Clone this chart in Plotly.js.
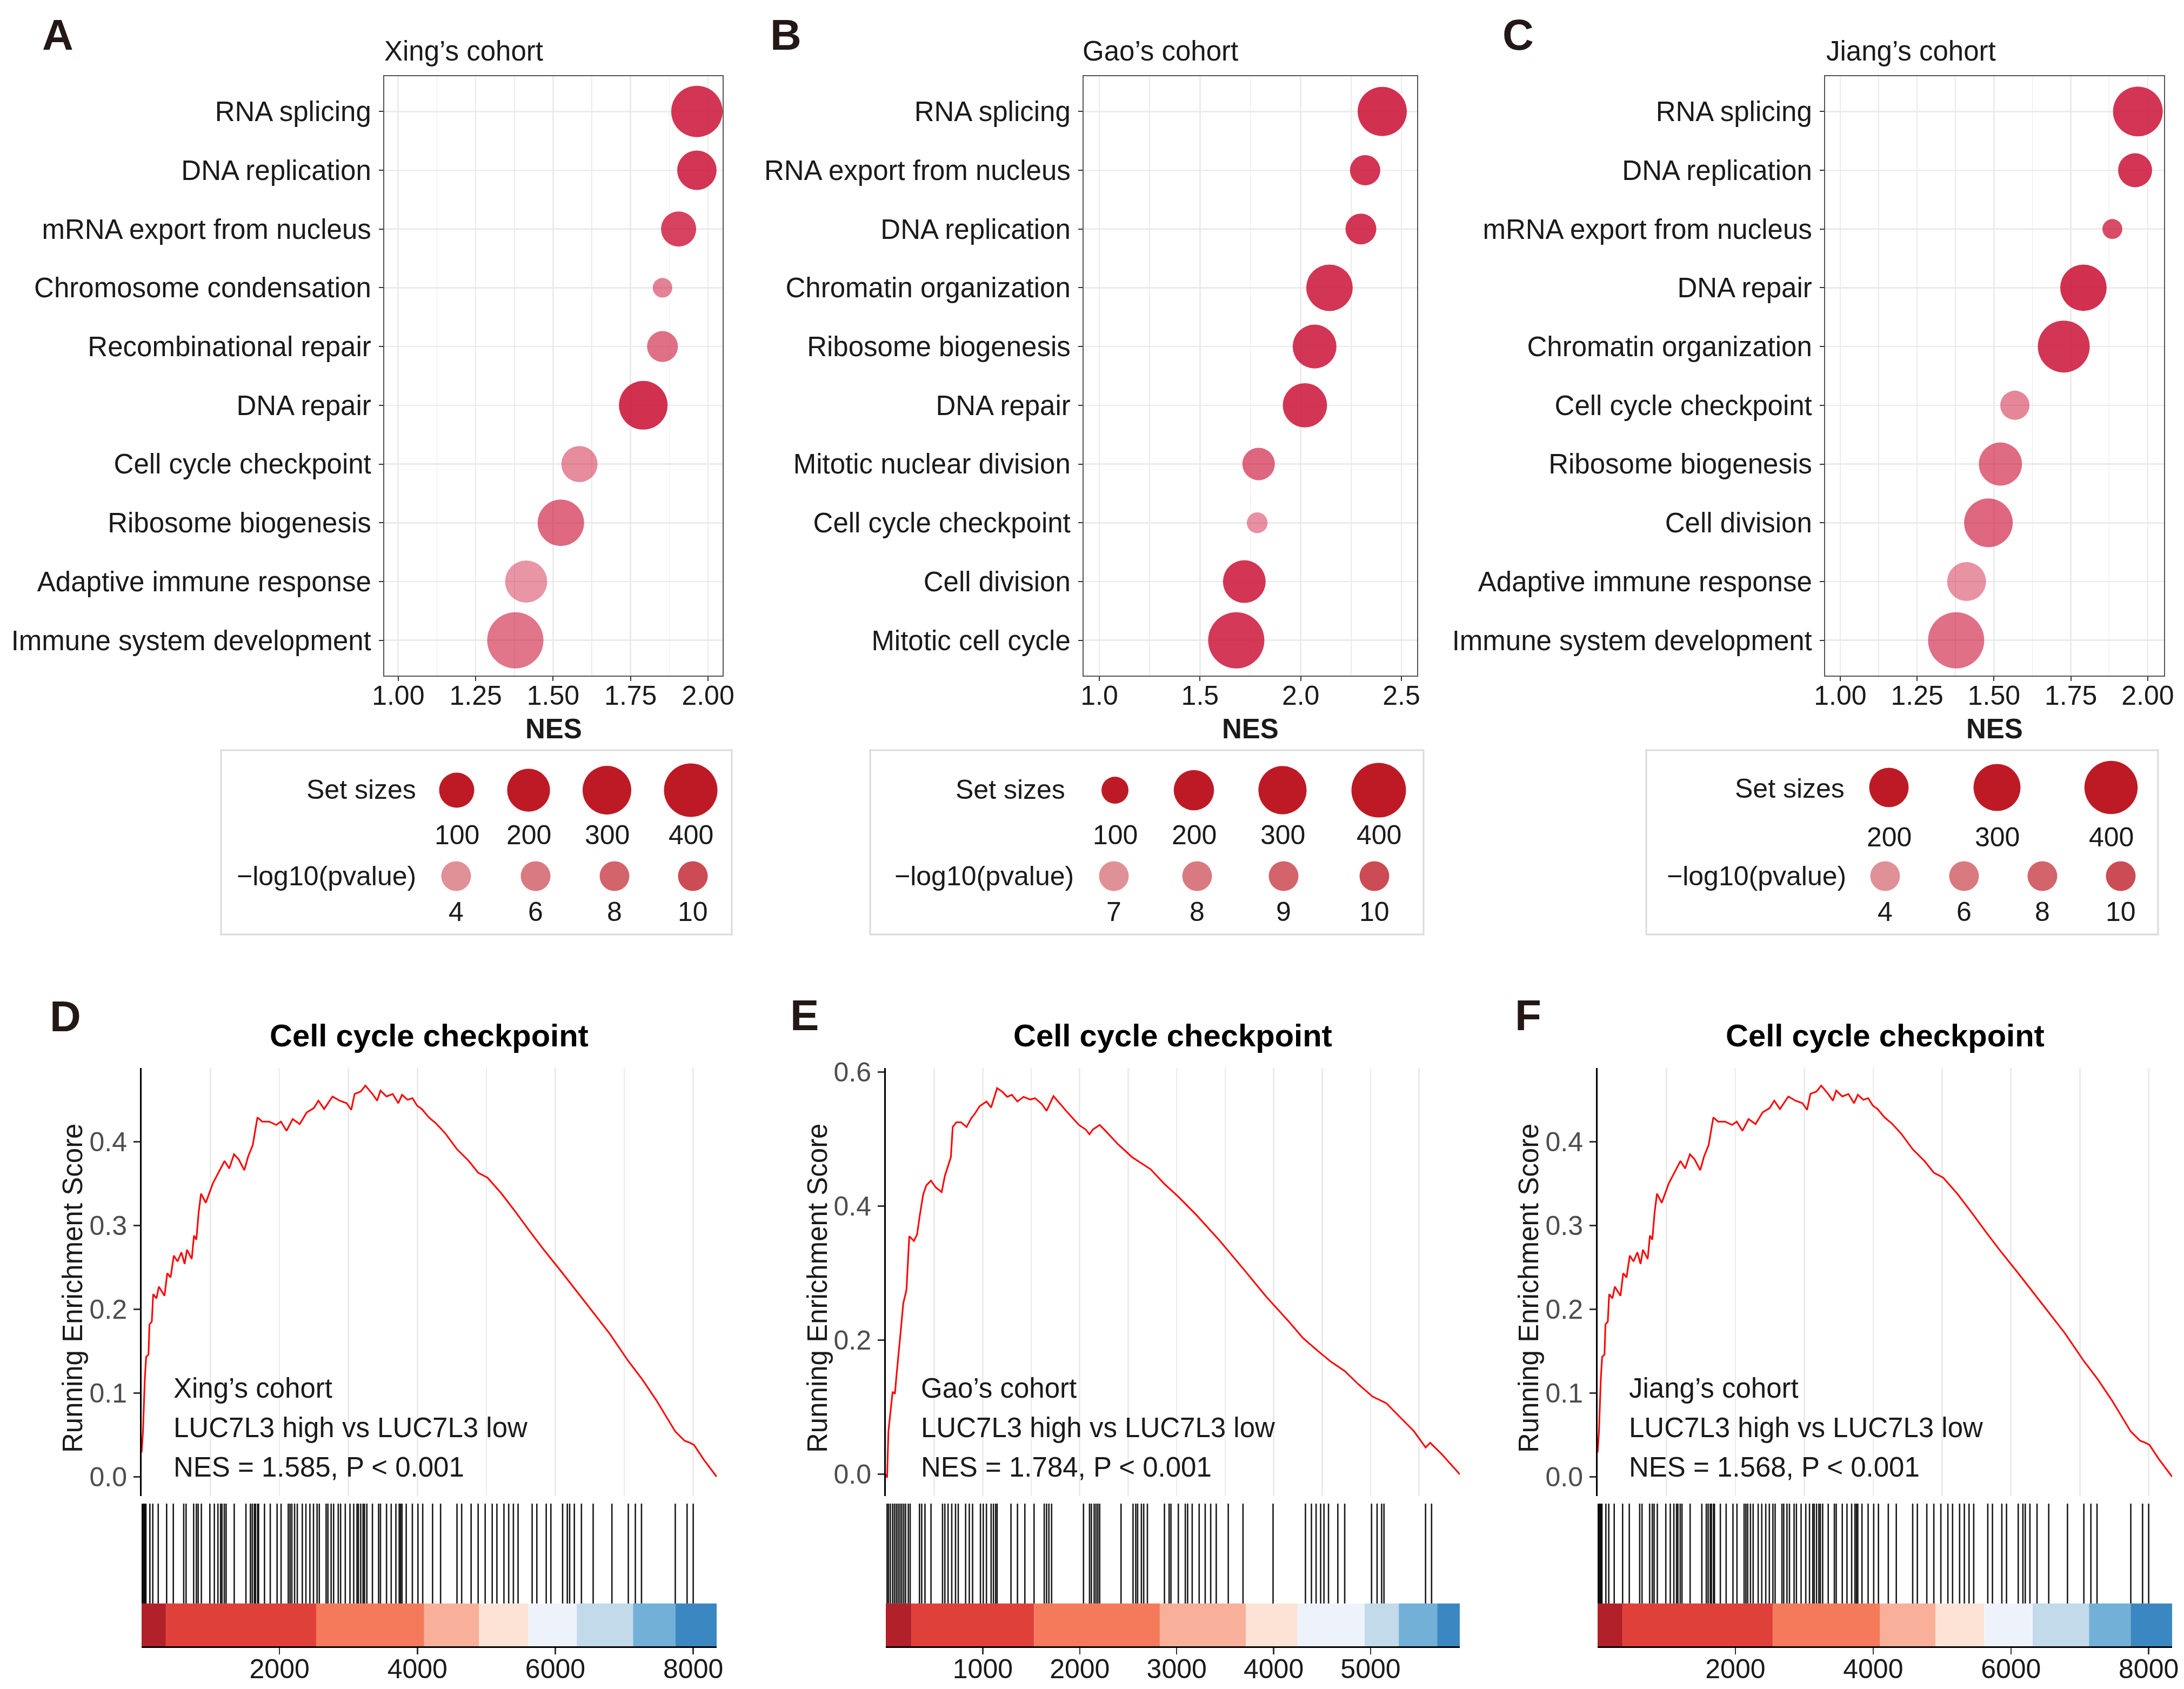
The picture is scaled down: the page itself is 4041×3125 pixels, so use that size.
<!DOCTYPE html>
<html><head><meta charset="utf-8">
<script src="https://cdn.plot.ly/plotly-3.0.1.min.js"></script>
<style>html,body{margin:0;padding:0;background:#fff;}#chart{width:4041px;height:3125px;}</style>
</head><body><div id="chart"></div>
<script>
// ================= DATA =================
// Panel A (Xing's cohort)
const catsA = ["RNA splicing","DNA replication","mRNA export from nucleus","Chromosome condensation","Recombinational repair","DNA repair","Cell cycle checkpoint","Ribosome biogenesis","Adaptive immune response","Immune system development"];
const nesA  = [1.964,1.964,1.905,1.853,1.853,1.791,1.585,1.525,1.413,1.378];
const sizeA = [353,150,100,20,62,299,111,259,188,463];
const logpA = [12.0,12.0,10.8,5.4,6.8,12.4,4.4,7.4,3.6,6.4];
const xTicksA = [1.00,1.25,1.50,1.75,2.00];
const sizeBreaksA = [100,200,300,400];
const pBreaksA = [4,6,8,10];

// Panel B (Gao's cohort)
const catsB = ["RNA splicing","RNA export from nucleus","DNA replication","Chromatin organization","Ribosome biogenesis","DNA repair","Mitotic nuclear division","Cell cycle checkpoint","Cell division","Mitotic cell cycle"];
const nesB  = [2.405,2.320,2.299,2.143,2.069,2.021,1.791,1.784,1.720,1.680];
const sizeB = [313,117,120,275,240,246,131,82,227,429];
const logpB = [11.2,11.0,11.0,11.0,11.0,11.0,8.8,7.0,11.0,10.8];
const xTicksB = [1.0,1.5,2.0,2.5];
const sizeBreaksB = [100,200,300,400];
const pBreaksB = [7,8,9,10];

// Panel C (Jiang's cohort)
const catsC = ["RNA splicing","DNA replication","mRNA export from nucleus","DNA repair","Chromatin organization","Cell cycle checkpoint","Ribosome biogenesis","Cell division","Adaptive immune response","Immune system development"];
const nesC  = [1.968,1.959,1.885,1.791,1.727,1.568,1.521,1.482,1.411,1.377];
const sizeC = [341,145,66,291,377,108,246,324,194,455];
const logpC = [12.0,12.0,10.0,12.4,12.0,4.8,7.2,7.6,3.8,6.8];
const xTicksC = [1.00,1.25,1.50,1.75,2.00];
const sizeBreaksC = [200,300,400];
const pBreaksC = [4,6,8,10];

// Panel D (Xing's cohort GSEA)
const esDx = [0,20,46,66,100,114,148,168,216,250,332,372,420,467,522,577,624,658,727,760,794,828,862,931,1032,1135,1203,1271,1340,1408,1490,1544,1612,1680,1748,1850,1952,2020,2102,2191,2293,2395,2497,2565,2647,2769,2871,2973,3041,3089,3178,3246,3348,3416,3464,3552,3641,3723,3777,3859,3928,3996,4064,4166,4268,4404,4574,4745,4881,5017,5221,5425,5630,5834,6106,6447,6787,7060,7264,7468,7740,7876,7944,8012,8149,8340];
const esDy = [0.029,0.054,0.116,0.143,0.146,0.182,0.185,0.218,0.213,0.227,0.216,0.243,0.238,0.264,0.257,0.268,0.254,0.271,0.26,0.288,0.283,0.316,0.338,0.327,0.35,0.366,0.377,0.368,0.385,0.379,0.366,0.382,0.396,0.429,0.424,0.424,0.42,0.424,0.413,0.427,0.421,0.435,0.44,0.449,0.439,0.454,0.449,0.446,0.438,0.457,0.46,0.467,0.457,0.449,0.461,0.454,0.457,0.446,0.456,0.45,0.452,0.443,0.439,0.429,0.422,0.41,0.391,0.377,0.363,0.357,0.338,0.316,0.293,0.271,0.243,0.207,0.171,0.138,0.116,0.091,0.054,0.043,0.041,0.038,0.021,0.0];
const rugD = [0,10,24,37,50,63,120,162,241,363,460,611,645,755,794,820,867,990,1055,1107,1146,1165,1199,1225,1343,1513,1578,1605,1636,1652,1683,1696,1782,1866,1965,2023,2127,2153,2179,2219,2258,2331,2383,2441,2493,2545,2577,2676,2702,2749,2785,2852,2886,2954,3022,3076,3124,3144,3178,3212,3233,3267,3348,3437,3464,3552,3620,3688,3736,3757,3777,3838,3927,4008,4077,4220,4336,4574,4642,4779,4881,4983,5085,5153,5255,5324,5392,5460,5664,5732,5868,5936,6106,6174,6208,6276,6379,6549,6821,7059,7161,7250,7740,7911,8000];
const barBreaksD = [0,352,2532,4098,4894,5609,6311,7128,7740,8340];
const xTicksD = [2000,4000,6000,8000];
const yTicksD = [0.0,0.1,0.2,0.3,0.4];

// Panel E (Gao's cohort GSEA)
const esEx = [0,13,27,51,70,94,108,156,180,213,242,290,323,347,385,418,466,514,576,609,671,690,728,776,833,881,919,967,1038,1086,1148,1205,1253,1300,1358,1420,1491,1539,1610,1658,1682,1729,1777,1872,1992,2063,2101,2134,2206,2254,2397,2540,2636,2731,2874,3017,3208,3446,3684,3923,4161,4304,4447,4590,4733,4876,5019,5162,5305,5448,5568,5615,5734,5920];
const esEy = [0,-0.005,0.064,0.096,0.123,0.12,0.144,0.217,0.255,0.275,0.355,0.348,0.358,0.383,0.417,0.431,0.438,0.428,0.421,0.445,0.473,0.518,0.525,0.525,0.518,0.531,0.538,0.549,0.556,0.547,0.576,0.57,0.563,0.566,0.556,0.563,0.559,0.561,0.552,0.542,0.549,0.564,0.556,0.54,0.521,0.514,0.507,0.514,0.521,0.514,0.492,0.473,0.464,0.455,0.433,0.414,0.386,0.348,0.307,0.265,0.227,0.203,0.185,0.168,0.154,0.134,0.116,0.106,0.085,0.064,0.04,0.047,0.03,0.0];
const rugE = [13,27,46,70,89,108,127,146,165,185,204,232,251,347,370,404,466,585,609,642,680,719,747,823,861,895,976,1005,1038,1086,1110,1133,1148,1291,1358,1434,1529,1634,1658,1682,1710,2039,2101,2120,2149,2168,2187,2206,2426,2550,2578,2597,2636,2660,2698,2874,2922,2941,3017,3089,3113,3160,3232,3294,3351,3408,3532,3684,3994,4328,4390,4438,4485,4519,4566,4662,4733,5010,5067,5114,5138,5567,5629];
const barBreaksE = [0,266,1529,2826,3713,4247,4938,5291,5687,5920];
const xTicksE = [1000,2000,3000,4000,5000];
const yTicksE = [0.0,0.2,0.4,0.6];

// Panel F (Jiang's cohort GSEA)
const esFx = [0,20,46,66,100,114,148,168,216,250,332,372,420,467,522,577,624,658,727,760,794,828,862,931,1032,1135,1203,1271,1340,1408,1490,1544,1612,1680,1748,1850,1952,2020,2102,2191,2293,2395,2497,2565,2647,2769,2871,2973,3041,3089,3178,3246,3348,3416,3464,3552,3641,3723,3777,3859,3928,3996,4064,4166,4268,4404,4574,4745,4881,5017,5221,5425,5630,5834,6106,6447,6787,7060,7264,7468,7740,7876,7944,8012,8149,8340];
const esFy = [0.029,0.054,0.116,0.143,0.146,0.182,0.185,0.218,0.213,0.227,0.216,0.243,0.238,0.264,0.257,0.268,0.254,0.271,0.26,0.288,0.283,0.316,0.338,0.327,0.35,0.366,0.377,0.368,0.385,0.379,0.366,0.382,0.396,0.429,0.424,0.424,0.42,0.424,0.413,0.427,0.421,0.435,0.44,0.449,0.439,0.454,0.449,0.446,0.438,0.457,0.46,0.467,0.457,0.449,0.461,0.454,0.457,0.446,0.456,0.45,0.452,0.443,0.439,0.429,0.422,0.41,0.391,0.377,0.363,0.357,0.338,0.316,0.293,0.271,0.243,0.207,0.171,0.138,0.116,0.091,0.054,0.043,0.041,0.038,0.021,0.0];
const rugF = [0,10,24,37,50,63,120,162,241,363,460,611,645,755,794,820,867,990,1055,1107,1146,1165,1199,1225,1343,1513,1578,1605,1636,1652,1683,1696,1782,1866,1965,2023,2127,2153,2179,2219,2258,2331,2383,2441,2493,2545,2577,2676,2702,2749,2785,2852,2886,2954,3022,3076,3124,3144,3178,3212,3233,3267,3348,3437,3464,3552,3620,3688,3736,3757,3777,3838,3927,4008,4077,4220,4336,4574,4642,4779,4881,4983,5085,5153,5255,5324,5392,5460,5664,5732,5868,5936,6106,6174,6208,6276,6379,6549,6821,7059,7161,7250,7740,7911,8000];
const barBreaksF = [0,362,2544,4101,4906,5611,6316,7134,7738,8340];
const xTicksF = [2000,4000,6000,8000];
const yTicksF = [0.0,0.1,0.2,0.3,0.4];

const gseaTitle = "Cell cycle checkpoint";
const cohortNames = ["Xing\u2019s cohort","Gao\u2019s cohort","Jiang\u2019s cohort"];
const compLabel = "LUC7L3 high vs LUC7L3 low";
const nesLabels = ["NES = 1.585, P < 0.001","NES = 1.784, P < 0.001","NES = 1.568, P < 0.001"];

// ================= STYLE / LAYOUT =================
const W = 4041, H = 3125;
const FONT = "Liberation Sans, Arial, Helvetica, sans-serif";
const TXT = "#1A1A1A";
const bubbleRGB = [205,25,60];
const legendRGB = [190,26,37];
const barPalette = ["#B2202A","#E0403A","#F57A5C","#F9B09A","#FDE3D6","#EEF3FB","#C3DAEA","#72B0D8","#3B87C1"];

const fx = px => px / W;
const fy = py => 1 - py / H;
const rgba = (c, a) => `rgba(${c[0]},${c[1]},${c[2]},${a.toFixed(3)})`;
function sizePx(n, s){ const t = Math.max(0,(n - s.lo)/(s.hi - s.lo)); return s.dmin + (s.dmax - s.dmin)*Math.sqrt(t); }
function alphaOf(v, s){ const t = (v - s.lo)/(s.hi - s.lo); return Math.min(1, Math.max(0.05, s.amin + (s.amax - s.amin)*t)); }

const bubblePanels = [
  {cats:catsA, nes:nesA, size:sizeA, logp:logpA, ticks:xTicksA, fmt:".2f", minor0:1.125, minorD:0.25, range:[0.955,2.047],
   dom:[711,1337], sScale:{lo:20,hi:463,dmin:36.2,dmax:104}, aScale:{lo:2.4,hi:12.4,amin:0.4,amax:0.9},
   title:cohortNames[0], titleX:709, letter:"A", letterXY:[107,64],
   leg:{box:[409,1388,1354,1729], sTitleX:772, sTitleY:1461, sY:1462, sLabY:1545, pTitleX:772, pY:1621, pLabY:1687,
        sXs:[845,978,1123,1278], pXs:[844,991,1137,1282], sBreaks:sizeBreaksA, pBreaks:pBreaksA}},
  {cats:catsB, nes:nesB, size:sizeB, logp:logpB, ticks:xTicksB, fmt:".1f", minor0:1.25, minorD:0.5, range:[0.922,2.578],
   dom:[2005,2622], sScale:{lo:80,hi:470,dmin:33,dmax:108}, aScale:{lo:6.2,hi:11.2,amin:0.4,amax:0.9},
   title:cohortNames[1], titleX:2001, letter:"B", letterXY:[1454,64],
   leg:{box:[1610,1388,2634,1729], sTitleX:1973, sTitleY:1461, sY:1462, sLabY:1545, pTitleX:1989, pY:1621, pLabY:1687,
        sXs:[2063,2209,2373,2551], pXs:[2061,2215,2375,2543], sBreaks:sizeBreaksB, pBreaks:pBreaksB}},
  {cats:catsC, nes:nesC, size:sizeC, logp:logpC, ticks:xTicksC, fmt:".2f", minor0:1.125, minorD:0.25, range:[0.951,2.053],
   dom:[3377,4004], sScale:{lo:60,hi:470,dmin:27.4,dmax:105.4}, aScale:{lo:2.4,hi:12.4,amin:0.4,amax:0.9},
   title:cohortNames[2], titleX:3377, letter:"C", letterXY:[2809,64],
   leg:{box:[3046,1388,3993,1729], sTitleX:3415, sTitleY:1459, sY:1457, sLabY:1549, pTitleX:3418, pY:1621, pLabY:1687,
        sXs:[3495,3695,3906], pXs:[3488,3634,3779,3924], sBreaks:sizeBreaksC, pBreaks:pBreaksC}}
];

const gseaPanels = [
  {x:esDx, y:esDy, rug:rugD, bars:barBreaksD, xt:xTicksD, yt:yTicksD, xr:[0,8340], yr:[-0.023,0.488], minor0:1000, minorD:2000,
   dom:[262,1326], letter:"D", letterXY:[121,1880], ytitleX:134, annX:319, cohort:cohortNames[0], nes:nesLabels[0]},
  {x:esEx, y:esEy, rug:rugE, bars:barBreaksE, xt:xTicksE, yt:yTicksE, xr:[0,5920], yr:[-0.0325,0.606], minor0:500, minorD:1000,
   dom:[1639,2701], letter:"E", letterXY:[1488,1878], ytitleX:1512, annX:1702, cohort:cohortNames[1], nes:nesLabels[1]},
  {x:esFx, y:esFy, rug:rugF, bars:barBreaksF, xt:xTicksF, yt:yTicksF, xr:[0,8340], yr:[-0.023,0.488], minor0:1000, minorD:2000,
   dom:[2956,4019], letter:"F", letterXY:[2827,1878], ytitleX:2828, annX:3012, cohort:cohortNames[2], nes:nesLabels[2]}
];

const BUB_Y = [141,1250];
const ES_Y = [1976,2768];
const BOT_Y = [2782,3046];
const BAR_TOP = 0.30;

const traces = [];
const layout = {
  width:W, height:H, margin:{l:0,r:0,t:0,b:0,pad:0}, autosize:false,
  paper_bgcolor:"#ffffff", plot_bgcolor:"rgba(0,0,0,0)", showlegend:false,
  font:{family:FONT, color:TXT}, annotations:[], shapes:[]
};
function ann(text, x, y, o){ return Object.assign({text, x:fx(x), y:fy(y), xref:"paper", yref:"paper", showarrow:false,
  xanchor:"center", yanchor:"middle", font:{family:FONT, size:51, color:TXT}}, o||{}); }

// overlay pixel axis (for legend keys)
layout.xaxis10 = {domain:[0,1], range:[0,W], visible:false, fixedrange:true, anchor:"y10"};
layout.yaxis10 = {domain:[0,1], range:[H,0], visible:false, fixedrange:true, anchor:"x10"};

bubblePanels.forEach((p, i) => {
  const k = i + 1, xa = "xaxis" + (k===1?"":k), ya = "yaxis" + (k===1?"":k);
  const xr = "x" + (k===1?"":k), yr = "y" + (k===1?"":k);
  layout[xa] = {domain:[fx(p.dom[0]), fx(p.dom[1])], anchor:yr, range:p.range, tickmode:"array", tickvals:p.ticks, tickformat:p.fmt,
    showgrid:true, gridcolor:"#EBEBEB", gridwidth:2.6, zeroline:false, showline:true, mirror:true, linecolor:"#555555", linewidth:2,
    ticks:"outside", ticklen:8, tickwidth:2, tickcolor:"#333333", tickfont:{size:50, color:TXT}, ticklabelstandoff:-16,
    minor:{tickmode:"linear", tick0:p.minor0, dtick:p.minorD, showgrid:true, gridcolor:"#EBEBEB", gridwidth:1.5, ticks:""}, fixedrange:true};
  layout[ya] = {domain:[fy(BUB_Y[1]), fy(BUB_Y[0])], anchor:xr, type:"category", categoryorder:"array", categoryarray:p.cats,
    range:[p.cats.length - 0.4, -0.6], showgrid:true, gridcolor:"#EBEBEB", gridwidth:2.6, zeroline:false, showline:true, mirror:true,
    linecolor:"#555555", linewidth:2, ticks:"outside", ticklen:8, tickwidth:2, tickcolor:"#333333", tickfont:{size:51, color:TXT},
    ticklabelstandoff:4, fixedrange:true};
  traces.push({type:"scatter", mode:"markers", x:p.nes, y:p.cats, xaxis:xr, yaxis:yr, hoverinfo:"skip",
    marker:{size:p.size.map(n => sizePx(n, p.sScale)), opacity:1, color:p.logp.map(v => rgba(bubbleRGB, alphaOf(v, p.aScale))), line:{width:0}}});
  // titles
  layout.annotations.push(ann(p.title, p.titleX, 95, {xanchor:"left"}));
  layout.annotations.push(ann("<b>NES</b>", (p.dom[0]+p.dom[1])/2, 1348, {font:{family:FONT,size:51,color:TXT}}));
  layout.annotations.push(ann("<b>"+p.letter+"</b>", p.letterXY[0], p.letterXY[1], {font:{family:FONT,size:80,color:"#231815"}}));
  // legend
  const L = p.leg;
  layout.shapes.push({type:"rect", xref:"paper", yref:"paper", x0:fx(L.box[0]), x1:fx(L.box[2]), y0:fy(L.box[3]), y1:fy(L.box[1]),
    line:{color:"#DADADA", width:3}, fillcolor:"rgba(0,0,0,0)"});
  layout.annotations.push(ann("Set sizes", L.sTitleX, L.sTitleY, {xanchor:"right", font:{family:FONT,size:50,color:TXT}}));
  layout.annotations.push(ann("\u2212log10(pvalue)", L.pTitleX, L.pY, {xanchor:"right", font:{family:FONT,size:50,color:TXT}}));
  traces.push({type:"scatter", mode:"markers", x:L.sXs, y:L.sXs.map(() => L.sY), xaxis:"x10", yaxis:"y10", hoverinfo:"skip",
    marker:{size:L.sBreaks.map(n => sizePx(n, p.sScale)), opacity:1, color:rgba(legendRGB,1), line:{width:0}}});
  traces.push({type:"scatter", mode:"markers", x:L.pXs, y:L.pXs.map(() => L.pY), xaxis:"x10", yaxis:"y10", hoverinfo:"skip",
    marker:{size:55, opacity:1, color:L.pBreaks.map(v => rgba(legendRGB, alphaOf(v, p.aScale))), line:{width:0}}});
  L.sBreaks.forEach((b, j) => layout.annotations.push(ann(String(b), L.sXs[j], L.sLabY, {font:{family:FONT,size:50,color:TXT}})));
  L.pBreaks.forEach((b, j) => layout.annotations.push(ann(String(b), L.pXs[j], L.pLabY, {font:{family:FONT,size:50,color:TXT}})));
});

gseaPanels.forEach((g, i) => {
  const kTop = 4 + i, kBot = 7 + i;
  const xt = "x"+kTop, yt = "y"+kTop, xb = "x"+kBot, yb = "y"+kBot;
  layout["xaxis"+kTop] = {domain:[fx(g.dom[0]), fx(g.dom[1])], anchor:yt, range:g.xr, tickmode:"array", tickvals:g.xt,
    showticklabels:false, ticks:"", showgrid:true, gridcolor:"#EBEBEB", gridwidth:2.6, zeroline:false, showline:false,
    minor:{tickmode:"linear", tick0:g.minor0, dtick:g.minorD, showgrid:true, gridcolor:"#EBEBEB", gridwidth:2.6, ticks:""}, fixedrange:true};
  layout["yaxis"+kTop] = {domain:[fy(ES_Y[1]), fy(ES_Y[0])], anchor:xt, range:g.yr, tickmode:"array", tickvals:g.yt, tickformat:".1f",
    showgrid:false, zeroline:false, showline:true, linecolor:"#000000", linewidth:3, ticks:"outside", ticklen:12, tickwidth:2.5,
    tickcolor:"#333333", tickfont:{size:50, color:"#4D4D4D"}, ticklabelstandoff:2, fixedrange:true};
  layout["xaxis"+kBot] = {domain:[fx(g.dom[0]), fx(g.dom[1])], anchor:yb, range:g.xr, tickmode:"array", tickvals:g.xt,
    showgrid:false, zeroline:false, showline:true, linecolor:"#000000", linewidth:3, ticks:"outside", ticklen:12, tickwidth:2.5,
    tickcolor:"#333333", tickfont:{size:50, color:TXT}, ticklabelstandoff:-16, fixedrange:true};
  layout["yaxis"+kBot] = {domain:[fy(BOT_Y[1]), fy(BOT_Y[0])], anchor:xb, range:[0,1], visible:false, fixedrange:true};
  // running ES line
  traces.push({type:"scatter", mode:"lines", x:g.x, y:g.y, xaxis:xt, yaxis:yt, hoverinfo:"skip",
    line:{color:"#FF0000", width:3}});
  // rug
  const rx = [], ry = [];
  g.rug.forEach(r => { rx.push(r, r, null); ry.push(BAR_TOP, 1, null); });
  traces.push({type:"scatter", mode:"lines", x:rx, y:ry, xaxis:xb, yaxis:yb, hoverinfo:"skip",
    line:{color:"rgba(0,0,0,0.9)", width:2.6}});
  // color bar
  for (let s = 0; s < g.bars.length - 1; s++) {
    layout.shapes.push({type:"rect", xref:xb, yref:yb, x0:g.bars[s], x1:g.bars[s+1], y0:0, y1:BAR_TOP,
      fillcolor:barPalette[s], line:{width:0}, layer:"below"});
  }
  // texts
  const cx = (g.dom[0] + g.dom[1]) / 2;
  layout.annotations.push(ann("<b>"+gseaTitle+"</b>", cx, 1915, {font:{family:FONT,size:58,color:"#000000"}}));
  layout.annotations.push(ann("<b>"+g.letter+"</b>", g.letterXY[0], g.letterXY[1], {font:{family:FONT,size:80,color:"#231815"}}));
  layout.annotations.push(ann("Running Enrichment Score", g.ytitleX, 2383, {textangle:-90}));
  layout.annotations.push(ann(g.cohort, g.annX, 2568, {xanchor:"left"}));
  layout.annotations.push(ann(compLabel, g.annX, 2641, {xanchor:"left"}));
  layout.annotations.push(ann(g.nes, g.annX, 2714, {xanchor:"left"}));
});

Plotly.newPlot("chart", traces, layout, {staticPlot:true, displayModeBar:false});
</script>
</body></html>
